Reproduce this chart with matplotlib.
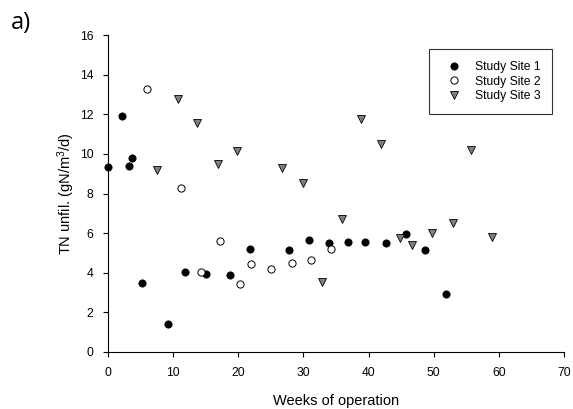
import matplotlib
matplotlib.use("Agg")
import matplotlib.pyplot as plt

plt.rcParams['font.family'] = ['Liberation Sans', 'DejaVu Sans']
plt.rcParams['mathtext.default'] = 'regular'

site1_weeks = [0.0, 2.15, 3.2, 3.75, 5.2, 9.2, 11.8, 15.0, 18.7, 21.8, 27.8, 30.8, 33.85, 36.8, 39.5, 42.6, 45.75, 48.7, 51.85]
site1_vals = [9.35, 11.91, 9.40, 9.78, 3.50, 1.40, 4.02, 3.94, 3.89, 5.20, 5.17, 5.64, 5.50, 5.57, 5.55, 5.50, 5.96, 5.13, 2.94]

site2_weeks = [6.06, 11.2, 14.2, 17.2, 20.26, 21.95, 25.08, 28.26, 31.1, 34.2]
site2_vals = [13.26, 8.29, 4.02, 5.60, 3.45, 4.43, 4.19, 4.49, 4.64, 5.20]

site3_weeks = [7.45, 10.8, 13.7, 16.9, 19.85, 26.7, 29.9, 32.9, 35.85, 38.9, 41.85, 44.9, 46.6, 49.8, 52.9, 55.8, 58.9]
site3_vals = [9.19, 12.76, 11.54, 9.51, 10.16, 9.29, 8.55, 3.55, 6.70, 11.78, 10.52, 5.75, 5.38, 6.02, 6.53, 10.21, 5.79]

x_ticks = [0, 10, 20, 30, 40, 50, 60, 70]
y_ticks = [0, 2, 4, 6, 8, 10, 12, 14, 16]

fig = plt.figure(figsize=(5.73, 4.09), dpi=100)
ax = fig.add_axes([108/573, 1-352/409, (564-108)/573, (352-35)/409])

ax.plot(site1_weeks, site1_vals, 'o', ms=5.2, mfc='black', mec='black', mew=0.6, label='Study Site 1', clip_on=False, zorder=3)
ax.plot(site2_weeks, site2_vals, 'o', ms=5.2, mfc='white', mec='black', mew=0.7, label='Study Site 2', clip_on=False, zorder=3)
ax.plot(site3_weeks, site3_vals, 'v', ms=6, mfc='#808080', mec='black', mew=0.6, label='Study Site 3', clip_on=False, zorder=3)

ax.set_xlim(0, 70)
ax.set_ylim(0, 16)
ax.set_xticks(x_ticks)
ax.set_yticks(y_ticks)
ax.spines['top'].set_visible(False)
ax.spines['right'].set_visible(False)
ax.spines['left'].set_linewidth(0.8)
ax.spines['bottom'].set_linewidth(0.8)
ax.tick_params(direction='out', length=3.5, width=0.8, labelsize=8.7, pad=7)

ax.set_xlabel('Weeks of operation', fontsize=10.5, labelpad=11)
ax.set_ylabel('TN unfil. (gN/m$^{3}$/d)', fontsize=10.5, labelpad=2)

leg = ax.legend(loc='upper right', bbox_to_anchor=(552.3/573, 1-49.3/409), bbox_transform=fig.transFigure,
                fontsize=8.7, frameon=True, fancybox=False, edgecolor='black', handletextpad=0.65,
                borderpad=1.0, labelspacing=0.18, handlelength=2.1, borderaxespad=0)
leg.get_frame().set_linewidth(0.8)

fig.text(11/573, 1-23/409, 'a)', fontsize=17, va='center', ha='left', family=['Open Sans', 'DejaVu Sans'])

fig.savefig('out.png', dpi=100)
